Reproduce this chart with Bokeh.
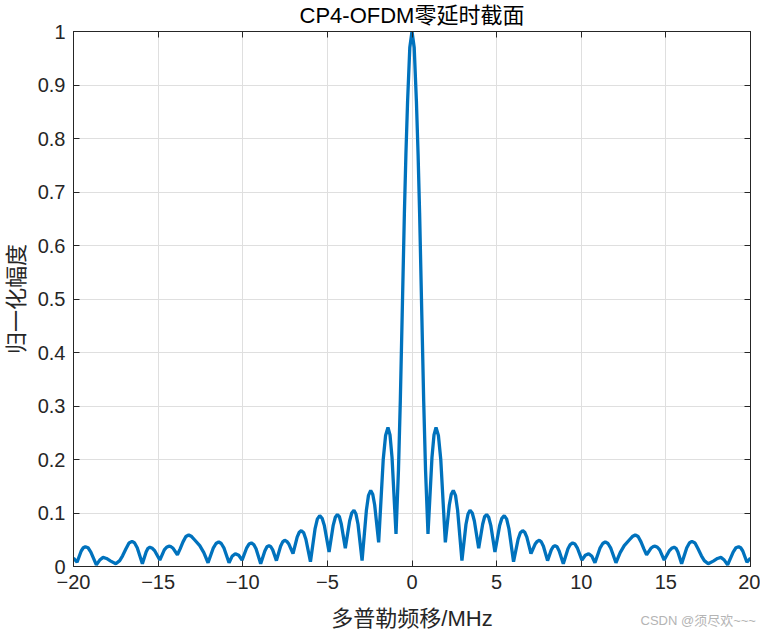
from bokeh.plotting import figure
from bokeh.models import FixedTicker, NumeralTickFormatter, LinearAxis, Label, Range1d
from bokeh.embed import file_html
from bokeh.resources import INLINE

# Right half of the (symmetric) zero-delay cut
x_right = [0.0, 0.13, 0.26, 0.36, 0.45, 0.58, 0.69, 0.80, 0.945,
           1.18, 1.30, 1.42, 1.56, 1.70, 1.97,
           2.205, 2.32, 2.44, 2.57, 2.695, 2.95,
           3.19, 3.31, 3.43, 3.56, 3.685, 3.94,
           4.175, 4.29, 4.41, 4.53, 4.655, 4.90,
           5.175, 5.31, 5.45, 5.59, 5.725, 6.00,
           6.27, 6.40, 6.54, 6.66, 6.785, 7.03,
           7.275, 7.40, 7.52, 7.64, 7.765, 8.01,
           8.23, 8.34, 8.45, 8.57, 8.695, 8.94,
           9.215, 9.35, 9.49, 9.63, 9.765, 10.04,
           10.24, 10.44, 10.63, 10.81,
           11.115, 11.27, 11.42, 11.58, 11.735, 12.05,
           12.30, 12.54, 12.85, 13.02, 13.19, 13.36, 13.53, 13.70, 13.86,
           14.115, 14.24, 14.37, 14.50, 14.635, 14.90,
           15.195, 15.34, 15.49, 15.60, 15.71, 15.93,
           16.235, 16.39, 16.54, 16.72, 16.90, 17.10, 17.27, 17.50,
           17.80, 18.05, 18.25, 18.45, 18.65,
           18.975, 19.14, 19.30, 19.42, 19.545, 19.79, 20.0]
y_right = [1.0, 0.97, 0.87, 0.77, 0.66, 0.47, 0.31, 0.18, 0.061,
           0.204, 0.246, 0.260, 0.245, 0.200, 0.045,
           0.115, 0.135, 0.142, 0.133, 0.105, 0.011,
           0.079, 0.098, 0.105, 0.100, 0.085, 0.034,
           0.079, 0.093, 0.097, 0.092, 0.077, 0.027,
           0.076, 0.090, 0.095, 0.089, 0.071, 0.009,
           0.051, 0.063, 0.067, 0.064, 0.055, 0.024,
           0.042, 0.047, 0.049, 0.046, 0.038, 0.011,
           0.031, 0.037, 0.039, 0.037, 0.029, 0.005,
           0.033, 0.041, 0.044, 0.042, 0.035, 0.012,
           0.021, 0.024, 0.019, 0.007,
           0.035, 0.043, 0.046, 0.043, 0.035, 0.007,
           0.026, 0.039, 0.050, 0.056, 0.059, 0.056, 0.046, 0.033, 0.022,
           0.034, 0.037, 0.038, 0.036, 0.031, 0.012,
           0.029, 0.034, 0.036, 0.034, 0.027, 0.005,
           0.035, 0.044, 0.047, 0.044, 0.033, 0.020, 0.011, 0.005,
           0.010, 0.015, 0.017, 0.012, 0.003,
           0.027, 0.035, 0.037, 0.035, 0.029, 0.008, 0.016]

x_ticks = [-20, -15, -10, -5, 0, 5, 10, 15, 20]
y_ticks = [0, 0.1, 0.2, 0.3, 0.4, 0.5, 0.6, 0.7, 0.8, 0.9, 1]

title_text = "CP4-OFDM零延时截面"
xlabel_text = "多普勒频移/MHz"
ylabel_text = "归一化幅度"
watermark_text = "CSDN @须尽欢~~~"

x_all = [-v for v in reversed(x_right[1:])] + x_right
y_all = list(reversed(y_right[1:])) + y_right

FONT = "Liberation Sans, Arial, Noto Sans CJK SC"
AX = "#262626"

p = figure(frame_width=677, frame_height=535,
           x_range=Range1d(-20, 20), y_range=Range1d(0, 1),
           output_backend="svg", toolbar_location=None,
           title=title_text,
           min_border_left=67, min_border_right=10,
           min_border_top=30, min_border_bottom=58,
           background_fill_color="white", border_fill_color="white")

p.title.align = "center"
p.title.vertical_align = "top"
p.title.text_font = FONT
p.title.text_font_size = "22px"
p.title.text_font_style = "normal"
p.title.text_color = "#000000"
p.title.standoff = 4

p.line(x_all, y_all, line_color="#0072BD", line_width=3.3)

for ax in (p.xaxis[0], p.yaxis[0]):
    ax.major_tick_in = 6
    ax.major_tick_out = 0
    ax.minor_tick_line_color = None
    ax.axis_line_color = AX
    ax.major_tick_line_color = AX
    ax.major_label_text_color = AX
    ax.major_label_text_font = FONT
    ax.major_label_text_font_size = "20px"
    ax.axis_label_text_font = FONT
    ax.axis_label_text_font_size = "22px"
    ax.axis_label_text_font_style = "normal"
    ax.axis_label_text_color = AX

p.xaxis[0].ticker = FixedTicker(ticks=x_ticks)
p.yaxis[0].ticker = FixedTicker(ticks=y_ticks)
p.yaxis[0].formatter = NumeralTickFormatter(format="0.[0]")
p.xaxis[0].axis_label = xlabel_text
p.yaxis[0].axis_label = ylabel_text
p.xaxis[0].major_label_standoff = 8
p.yaxis[0].major_label_standoff = 8
p.xaxis[0].axis_label_standoff = 14
p.yaxis[0].axis_label_standoff = 6

for loc, ticks in (("right", y_ticks), ("above", x_ticks)):
    a = LinearAxis(ticker=FixedTicker(ticks=ticks))
    a.major_tick_in = 6
    a.major_tick_out = 0
    a.minor_tick_line_color = None
    a.axis_line_color = AX
    a.major_tick_line_color = AX
    a.major_label_text_color = None
    a.major_label_text_font_size = "1px"
    a.major_label_standoff = 0
    p.add_layout(a, loc)

p.xgrid.ticker = FixedTicker(ticks=x_ticks)
p.ygrid.ticker = FixedTicker(ticks=y_ticks)
p.grid.grid_line_color = "#dfdfdf"
p.grid.grid_line_width = 1
p.outline_line_color = AX

wm = Label(x=567, y=21, x_units="screen", y_units="screen",
           text=watermark_text, text_font=FONT, text_font_size="13px",
           text_color="#b4b4b4")
p.add_layout(wm, "below")

open("out.html", "w").write(file_html(p, INLINE))
